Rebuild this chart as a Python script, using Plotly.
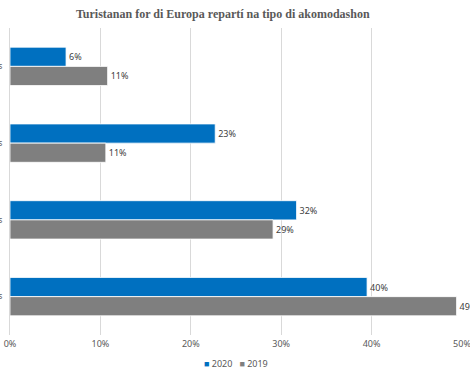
import plotly.graph_objects as go

categories = ["Otro tipos", "Famia/amigos", "Apartamentos", "Hotels"]
series_2020 = [6.2, 22.7, 31.7, 39.5]
series_2019 = [10.8, 10.6, 29.1, 49.4]
x_ticks = [0, 10, 20, 30, 40, 50]
series_names = ["2020", "2019"]
series_colors = ["#0070C0", "#7F7F7F"]

fig = go.Figure()
for name, color, vals in zip(series_names, series_colors, [series_2020, series_2019]):
    fig.add_trace(go.Bar(
        y=categories, x=vals, name=name, orientation="h",
        marker=dict(color=color, line=dict(color="#FFFFFF", width=0.8)),
        text=[f"{round(v)}%" for v in vals], textposition="outside",
        textfont=dict(family="Noto Sans", size=9, color="#404040"), cliponaxis=False,
        showlegend=False,
    ))

legend_text = "&nbsp;&nbsp;&nbsp;".join(
    f"<span style='color:{c};font-size:9px'>■</span> {n}" for n, c in zip(series_names, series_colors)
)

fig.update_layout(
    template="none",
    width=470, height=375,
    margin=dict(l=10, r=8, t=28, b=40),
    paper_bgcolor="white", plot_bgcolor="white",
    barmode="group", bargap=0.5, bargroupgap=0,
    title=dict(text="Turistanan for di Europa repartí na tipo di akomodashon",
               x=0.474, xanchor="center", y=0.963, yanchor="middle",
               font=dict(family="Liberation Serif", size=12, color="#595959", weight="bold")),
    xaxis=dict(range=[0, 50], tickvals=x_ticks, ticktext=[f"{v}%" for v in x_ticks],
               showgrid=True, gridcolor="#D9D9D9", gridwidth=1, zeroline=False,
               showline=False, ticks="", automargin=False, ticklabelstandoff=2,
               ticklabeloverflow="allow",
               tickfont=dict(family="Noto Sans", size=9, color="#595959")),
    yaxis=dict(autorange="reversed", showgrid=False, zeroline=False,
               showline=True, linecolor="#D9D9D9", linewidth=1, ticks="", automargin=False,
               ticklabelstandoff=5, ticklabeloverflow="allow",
               tickfont=dict(family="Noto Sans", size=8, color="#595959")),
    annotations=[dict(text=legend_text, xref="paper", yref="paper", x=0.5, y=-0.092,
                      xanchor="center", yanchor="middle", showarrow=False,
                      font=dict(family="Noto Sans", size=9, color="#595959"))],
    showlegend=False,
)

fig.write_html("out.html", config={"displayModeBar": False},
               post_script="document.body.style.margin='0px';document.body.style.padding='0px';")
